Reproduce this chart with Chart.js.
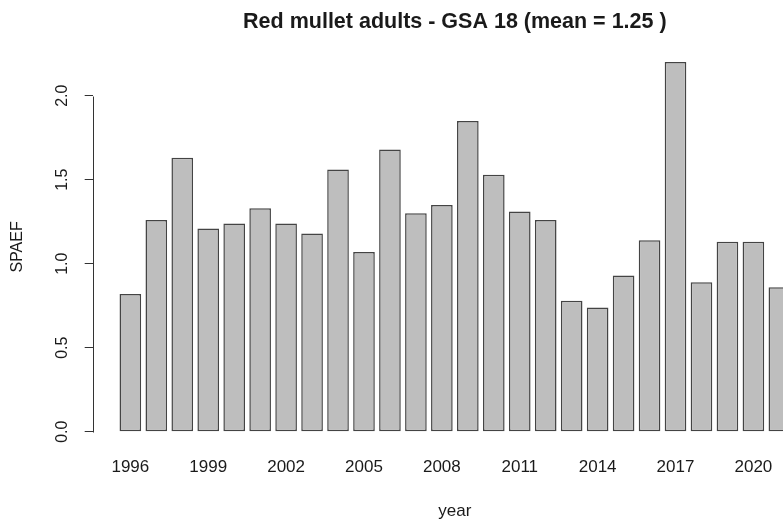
<!DOCTYPE html>
<html>
<head>
<meta charset="utf-8">
<script src="https://cdn.jsdelivr.net/npm/chart.js@4.4.1/dist/chart.umd.min.js"></script>
<style>
html,body{margin:0;padding:0;background:#fff;overflow:hidden}
#wrap{width:783px;height:525px;overflow:hidden;position:relative;background:#fff}
canvas{display:block}
</style>
</head>
<body>
<div id="wrap"><canvas id="c" width="830" height="525"></canvas></div>
<script>
// ---- data ----
const years = [1996,1997,1998,1999,2000,2001,2002,2003,2004,2005,2006,2007,2008,
               2009,2010,2011,2012,2013,2014,2015,2016,2017,2018,2019,2020,2021];
const spaef = [0.82,1.26,1.63,1.21,1.24,1.33,1.24,1.18,1.56,1.07,1.68,1.30,1.35,
               1.85,1.53,1.31,1.26,0.78,0.74,0.93,1.14,2.20,0.89,1.13,1.13,0.86];
const xTickYears = [1996,1999,2002,2005,2008,2011,2014,2017,2020];
const yTickValues = [0,0.5,1,1.5,2];
const chartTitle = 'Red mullet adults - GSA 18 (mean = 1.25 )';
const xTitle = 'year';
const yTitle = 'SPAEF';

const FONT = "'Liberation Sans', Arial, Helvetica, sans-serif";
const INK = '#1a1a1a';

// R-style y axis line: only spans the first to last tick
const rAxisLine = {
  id: 'rAxisLine',
  afterDraw(chart) {
    const ys = chart.scales.y;
    const ctx = chart.ctx;
    const x = Math.round(chart.chartArea.left) + 0.5;
    ctx.save();
    ctx.strokeStyle = '#333';
    ctx.lineWidth = 1;
    ctx.beginPath();
    ctx.moveTo(x, Math.round(ys.getPixelForValue(yTickValues[0])) + 0.5);
    ctx.lineTo(x, Math.round(ys.getPixelForValue(yTickValues[yTickValues.length - 1])) + 0.5);
    ctx.stroke();
    ctx.restore();
  }
};

new Chart(document.getElementById('c'), {
  type: 'bar',
  data: {
    datasets: [{
      label: yTitle,
      data: years.map((yr, i) => ({ x: yr, y: spaef[i] })),
      backgroundColor: '#bebebe',
      borderColor: '#444444',
      borderWidth: 1.5,
      borderSkipped: false,
      categoryPercentage: 1.0,
      barPercentage: 1 / 1.2
    }]
  },
  options: {
    responsive: false,
    devicePixelRatio: 1,
    animation: false,
    layout: { padding: { left: 0, right: 13, top: 0, bottom: 0 } },
    plugins: {
      legend: { display: false },
      tooltip: { enabled: false },
      title: {
        display: true,
        text: chartTitle,
        fullSize: false,
        color: INK,
        font: { family: FONT, size: 21.5, weight: 'bold', lineHeight: 1.2 },
        padding: { top: 9.4, bottom: 12.1 }
      }
    },
    scales: {
      x: {
        type: 'linear',
        min: 1994.55,
        max: 2022.45,
        offset: false,
        grid: { display: false, drawTicks: false, offset: false },
        border: { display: false },
        afterBuildTicks: (scale) => { scale.ticks = xTickYears.map(v => ({ value: v })); },
        ticks: {
          color: INK,
          font: { family: FONT, size: 17, lineHeight: 1.2 },
          padding: 11,
          maxRotation: 0,
          autoSkip: false,
          callback: (v) => String(v)
        },
        title: {
          display: true,
          text: xTitle,
          color: INK,
          font: { family: FONT, size: 17, lineHeight: 1.2 },
          padding: { top: 12.7, bottom: 3 }
        }
      },
      y: {
        min: -0.088,
        max: 2.288,
        grid: { drawOnChartArea: false, drawTicks: true, tickLength: 8, color: '#333', lineWidth: 1 },
        border: { display: false },
        afterBuildTicks: (scale) => { scale.ticks = yTickValues.map(v => ({ value: v })); },
        ticks: {
          color: INK,
          font: { family: FONT, size: 16, lineHeight: 1.2 },
          padding: 10.6,
          minRotation: 90,
          maxRotation: 90,
          crossAlign: 'center',
          autoSkip: false,
          callback: (v) => Number(v).toFixed(1)
        },
        title: {
          display: true,
          text: yTitle,
          color: INK,
          font: { family: FONT, size: 16, lineHeight: 1.2 },
          padding: { top: 8.4, bottom: 16.7 }
        }
      }
    }
  },
  plugins: [rAxisLine]
});
</script>
</body>
</html>
